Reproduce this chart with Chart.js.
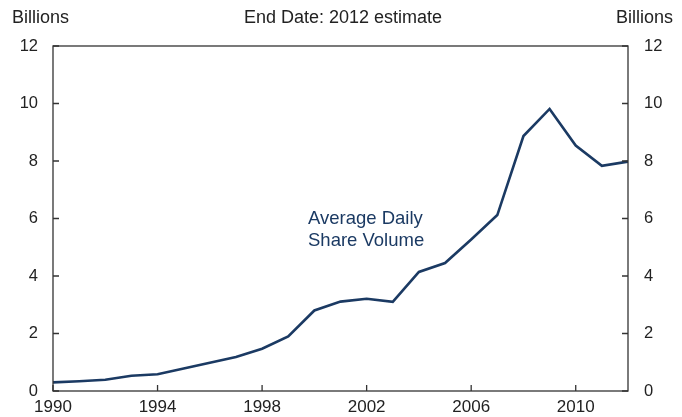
<!DOCTYPE html>
<html>
<head>
<meta charset="utf-8">
<script src="https://cdn.jsdelivr.net/npm/chart.js@4/dist/chart.umd.min.js"></script>
<style>
  html, body { margin:0; padding:0; background:#fff; }
  #wrap { width:682px; height:417px; }
</style>
</head>
<body>
<div id="wrap"><canvas id="volChart" width="682" height="417"></canvas></div>
<script>
'use strict';

// Average daily share volume, billions
const years = [1990,1991,1992,1993,1994,1995,1996,1997,1998,1999,2000,2001,
  2002,2003,2004,2005,2006,2007,2008,2009,2010,2011,2012];
const volume = [0.30,0.34,0.39,0.53,0.58,0.78,0.98,1.18,1.47,1.90,2.80,3.11,
  3.21,3.10,4.14,4.45,5.27,6.12,8.87,9.81,8.54,7.83,7.98];
const yTicks = [0,2,4,6,8,10,12];
const xTicks = [1990,1994,1998,2002,2006,2010];

const INK = '#333';
const LINE = '#1b3a63';
const FONT = '"Liberation Sans", Arial, sans-serif';

// box + inward tick marks + header text
const frame = {
  id: 'frame',
  afterDraw(chart){
    const {ctx, chartArea:a, scales} = chart;
    ctx.save();
    ctx.strokeStyle = INK;
    ctx.lineWidth = 1.3;
    ctx.strokeRect(a.left, a.top, a.right - a.left, a.bottom - a.top);
    ctx.beginPath();
    yTicks.forEach(v=>{
      const py = scales.y.getPixelForValue(v);
      ctx.moveTo(a.left, py); ctx.lineTo(a.left + 6, py);
      ctx.moveTo(a.right, py); ctx.lineTo(a.right - 6, py);
    });
    xTicks.forEach(v=>{
      const px = scales.x.getPixelForValue(v);
      ctx.moveTo(px, a.bottom); ctx.lineTo(px, a.bottom - 6);
    });
    ctx.stroke();

    ctx.fillStyle = '#222';
    ctx.font = '18px ' + FONT;
    ctx.textBaseline = 'middle';
    ctx.textAlign = 'left';
    ctx.fillText('Billions', 12, 18);
    ctx.textAlign = 'right';
    ctx.fillText('Billions', 673, 18);
    ctx.textAlign = 'center';
    ctx.fillText('End Date: 2012 estimate', 343, 18);

    ctx.fillStyle = LINE;
    ctx.font = '18.5px ' + FONT;
    ctx.textAlign = 'left';
    ctx.fillText('Average Daily', 308, 219);
    ctx.fillText('Share Volume', 308, 241);
    ctx.restore();
  }
};

new Chart(document.getElementById('volChart'), {
  type: 'line',
  data: {
    datasets: [{
      label: 'Average Daily Share Volume',
      data: years.map((y,i)=>({x:y, y:volume[i]})),
      borderColor: LINE,
      borderWidth: 2.6,
      pointRadius: 0,
      tension: 0,
      fill: false
    }]
  },
  options: {
    responsive: false,
    animation: false,
    layout: { padding: { top: 46, left: 0, right: 0, bottom: 0 } },
    plugins: { legend: { display: false }, tooltip: { enabled: false } },
    scales: {
      x: {
        type: 'linear', min: 1990, max: 2012,
        grid: { display: false, drawTicks: false },
        border: { display: false },
        afterBuildTicks: s=>{ s.ticks = xTicks.map(v=>({value:v})); },
        afterFit: s=>{ s.height = 26; },
        ticks: {
          padding: 6, color: '#222', maxRotation: 0, autoSkip: false,
          font: { family: FONT, size: 17 },
          callback: v=>String(v)
        }
      },
      y: {
        position: 'left', min: 0, max: 12,
        grid: { display: false, drawTicks: false },
        border: { display: false },
        afterBuildTicks: s=>{ s.ticks = yTicks.map(v=>({value:v})); },
        afterFit: s=>{ s.width = 53; },
        ticks: { padding: 15, color: '#222', font: { family: FONT, size: 16.5 } }
      },
      y2: {
        position: 'right', min: 0, max: 12,
        grid: { display: false, drawTicks: false },
        border: { display: false },
        afterBuildTicks: s=>{ s.ticks = yTicks.map(v=>({value:v})); },
        afterFit: s=>{ s.width = 54; },
        ticks: { padding: 16, color: '#222', font: { family: FONT, size: 16.5 } }
      }
    }
  },
  plugins: [frame]
});
</script>
</body>
</html>
